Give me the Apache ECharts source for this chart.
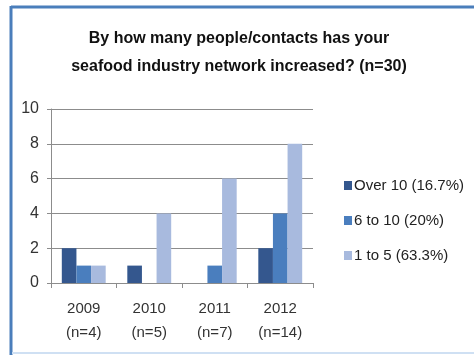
<!DOCTYPE html>
<html>
<head>
<meta charset="utf-8">
<script src="https://cdn.jsdelivr.net/npm/echarts@6/dist/echarts.min.js"></script>
<style>
  html, body { margin: 0; padding: 0; background: #fff; }
  #main { width: 474px; height: 355px; }
</style>
</head>
<body>
<div id="main"></div>
<script>
// data
var categories = ['2009\n(n=4)', '2010\n(n=5)', '2011\n(n=7)', '2012\n(n=14)'];
var seriesNames = ['Over 10 (16.7%)', '6 to 10 (20%)', '1 to 5 (63.3%)'];
var over10 = [2, 1, 0, 2];
var sixTo10 = [1, 0, 1, 4];
var oneTo5 = [1, 4, 6, 8];
var yTicks = [0, 2, 4, 6, 8, 10];

var FONT = '"Liberation Sans", Arial, sans-serif';
var chart = echarts.init(document.getElementById('main'));

var option = {
  backgroundColor: '#fff',
  color: ['#34578E', '#4A7EBE', '#A8BADE'],
  animation: false,
  title: {
    text: 'By how many people/contacts has your\nseafood industry network increased? (n=30)',
    left: 234,
    textAlign: 'center',
    top: 20,
    textStyle: {
      fontFamily: FONT,
      fontWeight: 'bold',
      fontSize: 16,
      lineHeight: 28,
      color: '#111'
    }
  },
  grid: {
    left: 51,
    right: 161,
    top: 109,
    bottom: 72
  },
  legend: {
    orient: 'vertical',
    left: 339,
    top: 173,
    icon: 'rect',
    itemWidth: 8,
    itemHeight: 9,
    itemGap: 20,
    selectedMode: false,
    textStyle: {
      fontFamily: FONT,
      fontSize: 15,
      color: '#222',
      padding: [0, 0, 0, -3]
    },
    data: seriesNames
  },
  xAxis: {
    type: 'category',
    data: categories,
    axisLine: { lineStyle: { color: '#8c8c8c' } },
    axisTick: { show: true, length: 5, lineStyle: { color: '#8c8c8c' } },
    axisLabel: {
      fontFamily: FONT,
      fontSize: 15,
      lineHeight: 24,
      color: '#333',
      margin: 14
    }
  },
  yAxis: {
    type: 'value',
    min: yTicks[0],
    max: yTicks[yTicks.length - 1],
    interval: 2,
    axisLine: { show: true, lineStyle: { color: '#8c8c8c' } },
    axisTick: { show: true, length: 4, lineStyle: { color: '#8c8c8c' } },
    splitLine: { lineStyle: { color: '#8c8c8c' } },
    axisLabel: {
      fontFamily: FONT,
      fontSize: 16,
      color: '#333',
      margin: 12
    }
  },
  graphic: [
    {
      type: 'line',
      shape: { x1: 11, y1: 7, x2: 474, y2: 7 },
      style: { stroke: '#4A7EBB', lineWidth: 3 }
    },
    {
      type: 'line',
      shape: { x1: 11, y1: 6, x2: 11, y2: 355 },
      style: { stroke: '#4A7EBB', lineWidth: 3 }
    },
    {
      type: 'line',
      shape: { x1: 12, y1: 353, x2: 474, y2: 353 },
      style: { stroke: '#cfe0f3', lineWidth: 2 }
    }
  ],
  series: [
    { name: seriesNames[0], type: 'bar', data: over10, barGap: '0%', barCategoryGap: '33%' },
    { name: seriesNames[1], type: 'bar', data: sixTo10, barGap: '0%', barCategoryGap: '33%' },
    { name: seriesNames[2], type: 'bar', data: oneTo5, barGap: '0%', barCategoryGap: '33%' }
  ]
};

chart.setOption(option);
</script>
</body>
</html>
